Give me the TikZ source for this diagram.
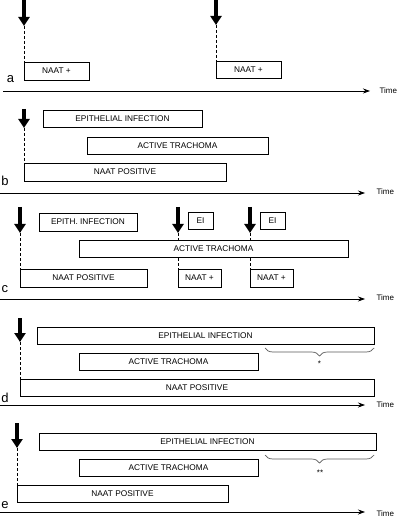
\documentclass[tikz,border=0pt]{standalone}
\usepackage{fontspec}
\setmainfont{Liberation Sans}
\usetikzlibrary{positioning, arrows.meta, decorations.pathreplacing, backgrounds}

\begin{document}
\begin{tikzpicture}[x=1pt, y=-1pt,
    bar/.style={draw, line width=0.8pt, fill=white, anchor=north west, inner sep=0pt, outer sep=0pt, minimum height=17, font=\fontsize{8.3}{10}\selectfont},
    hit/.style={line width=3.6pt, -{Triangle[length=9pt,width=11pt]}},
    link/.style={line width=0.7pt, dash pattern=on 3pt off 2pt},
    axis/.style={line width=0.7pt, -{Stealth[length=7pt,width=5pt]}},
    tag/.style={anchor=base, font=\fontsize{13}{14}\selectfont},
    timelbl/.style={anchor=west, font=\fontsize{8}{9}\selectfont},
    brace/.style={decorate, decoration={brace, mirror, amplitude=8pt}, gray!70!black, line width=0.7pt}]
    \useasboundingbox (0,0) rectangle (400,518);

    % a: two separate infections
    \node[bar, minimum width=65, minimum height=18] (naatA1) at (24,62) {NAAT +};
    \node[bar, minimum width=65] (naatA2) at (216,61) {NAAT +};
    \coordinate (hitA1) at (24,0); \coordinate (tipA1) at (24,26);
    \coordinate (hitA2) at (216,0); \coordinate (tipA2) at (216,25);
    \draw[hit] (hitA1) -- (tipA1);
    \draw[hit] (hitA2) -- (tipA2);
    \draw[link] (tipA1) -- (naatA1.north west);
    \draw[link] (tipA2) -- (naatA2.north west);
    \node[tag] (labA) at (10.5,83) {a};
    \coordinate (axA) at (3,91);
    \node[timelbl] (timeA) at (376,91) {Time};
    \draw[axis] (axA) -- (timeA.west -| 370,0);

    % b
    \node[bar, minimum width=159] (epiB) at (43,110) {EPITHELIAL INFECTION};
    \node[bar, minimum width=181] (atB) at (87,137) {ACTIVE TRACHOMA};
    \node[bar, minimum width=202, minimum height=18] (naatB) at (24,163) {NAAT POSITIVE};
    \coordinate (hitB) at (24,109); \coordinate (tipB) at (24,128);
    \draw[hit] (hitB) -- (tipB);
    \draw[link] (tipB) -- (naatB.north west);
    \node[tag] (labB) at (5,186) {b};
    \coordinate (axB) at (0,193);
    \node[timelbl] (timeB) at (373,192) {Time};
    \draw[axis] (axB) -- (365,193);

    % c: reinfections during active trachoma
    \begin{scope}[on background layer]
      \coordinate (tipC2) at (178,233); \coordinate (tipC3) at (250,233);
      \draw[link] (tipC2) -- (178,269);
      \draw[link] (tipC3) -- (250,269);
    \end{scope}
    \node[bar, minimum width=98, minimum height=18] (epiC) at (39,213) {EPITH. INFECTION};
    \node[bar, minimum width=25] (eiC1) at (188,212) {EI};
    \node[bar, minimum width=25] (eiC2) at (260,212) {EI};
    \node[bar, minimum width=269] (atC) at (79,240) {ACTIVE TRACHOMA};
    \node[bar, minimum width=127, minimum height=18] (naatC) at (20,269) {NAAT POSITIVE};
    \node[bar, minimum width=43, minimum height=18] (naatC1) at (178,269) {NAAT +};
    \node[bar, minimum width=43, minimum height=18] (naatC2) at (250,269) {NAAT +};
    \coordinate (hitC1) at (20,207); \coordinate (tipC1) at (20,233);
    \coordinate (hitC2) at (178,207); \coordinate (hitC3) at (250,207);
    \draw[hit] (hitC1) -- (tipC1);
    \draw[hit] (hitC2) -- (tipC2);
    \draw[hit] (hitC3) -- (tipC3);
    \draw[link] (tipC1) -- (naatC.north west);
    \node[tag] (labC) at (5,292) {c};
    \coordinate (axC) at (0,299);
    \node[timelbl] (timeC) at (373,298) {Time};
    \draw[axis] (axC) -- (365,299);

    % d
    \node[bar, minimum width=337] (epiD) at (37,327) {EPITHELIAL INFECTION};
    \node[bar, minimum width=179] (atD) at (79,353) {ACTIVE TRACHOMA};
    \node[bar, minimum width=354] (naatD) at (20,379) {NAAT POSITIVE};
    \coordinate (hitD) at (20,318); \coordinate (tipD) at (20,342);
    \draw[hit] (hitD) -- (tipD);
    \draw[link] (tipD) -- (naatD.north west);
    \coordinate (brD1) at (265,348); \coordinate (brD2) at (374,348);
    \draw[brace] (brD1) -- (brD2);
    \node[font=\fontsize{8}{9}\selectfont] (starD) at (319.5,364) {*};
    \node[tag] (labD) at (5,402) {d};
    \coordinate (axD) at (0,405);
    \node[timelbl] (timeD) at (373,405) {Time};
    \draw[axis] (axD) -- (365,405);

    % e
    \node[bar, minimum width=337] (epiE) at (39,433) {EPITHELIAL INFECTION};
    \node[bar, minimum width=179] (atE) at (79,459) {ACTIVE TRACHOMA};
    \node[bar, minimum width=211] (naatE) at (17,485) {NAAT POSITIVE};
    \coordinate (hitE) at (17,423); \coordinate (tipE) at (17,448);
    \draw[hit] (hitE) -- (tipE);
    \draw[link] (tipE) -- (naatE.north west);
    \coordinate (brE1) at (265,455); \coordinate (brE2) at (374,455);
    \draw[brace] (brE1) -- (brE2);
    \node[font=\fontsize{8}{9}\selectfont] (starE) at (320,473) {**};
    \node[tag] (labE) at (5,508) {e};
    \coordinate (axE) at (0,512);
    \node[timelbl] (timeE) at (373,514) {Time};
    \draw[axis] (axE) -- (365,512);
\end{tikzpicture}
\end{document}
